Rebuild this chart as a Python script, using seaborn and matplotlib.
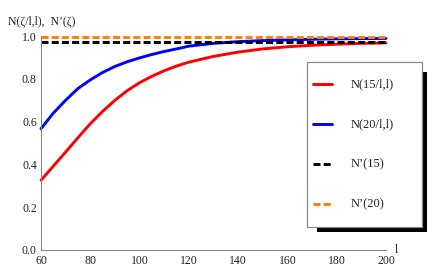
import matplotlib
matplotlib.use("Agg")
import matplotlib.pyplot as plt
from matplotlib.patches import Rectangle
from matplotlib.ticker import MultipleLocator, FormatStrFormatter
import seaborn as sns
import pandas as pd

# --- data ---
l_vals = [60, 65, 70, 75, 80, 85, 90, 95, 100, 105, 110, 115, 120, 130, 140, 150, 160, 170, 180, 190, 200]
n15 = [0.326, 0.392, 0.458, 0.525, 0.59, 0.648, 0.70, 0.745, 0.782, 0.812, 0.838, 0.86, 0.878,
       0.905, 0.925, 0.94, 0.95, 0.957, 0.962, 0.966, 0.968]
n20 = [0.567, 0.64, 0.70, 0.755, 0.795, 0.83, 0.858, 0.88, 0.898, 0.914, 0.928, 0.94, 0.953,
       0.966, 0.974, 0.979, 0.982, 0.985, 0.987, 0.988, 0.989]
l_range = [60, 200]
nprime15 = 0.974
nprime20 = 0.997

labels = ["N(15/l,l)", "N(20/l,l)", "N\u2019(15)", "N\u2019(20)"]
colors = ["#ff0000", "#0000ff", "#000000", "#ff8000"]
DASH = (0, (2.4, 1.1))
LW = 2.1

sns.set_style("white")
plt.rcParams["font.family"] = ["Liberation Serif", "DejaVu Serif"]

fig = plt.figure(figsize=(4.36, 2.73), dpi=100)
ax = fig.add_axes([41 / 436, 23 / 273, 345 / 436, 215 / 273])

curves = pd.DataFrame({"l": l_vals, "n15": n15, "n20": n20})
sns.lineplot(data=curves, x="l", y="n15", ax=ax, color=colors[0], lw=LW, clip_on=False)
sns.lineplot(data=curves, x="l", y="n20", ax=ax, color=colors[1], lw=LW, clip_on=False)
sns.lineplot(x=l_range, y=[nprime15] * 2, ax=ax, color=colors[2], lw=LW,
             linestyle=DASH, clip_on=False)
sns.lineplot(x=l_range, y=[nprime20] * 2, ax=ax, color=colors[3], lw=LW,
             linestyle=DASH, clip_on=False)

ax.set_xlim(60, 200)
ax.set_ylim(0, 1.005)
ax.set_xlabel("")
ax.set_ylabel("")
ax.xaxis.set_major_locator(MultipleLocator(20))
ax.xaxis.set_minor_locator(MultipleLocator(5))
ax.yaxis.set_major_locator(MultipleLocator(0.2))
ax.yaxis.set_minor_locator(MultipleLocator(0.05))
ax.yaxis.set_major_formatter(FormatStrFormatter("%.1f"))
ax.tick_params(which="both", direction="in", color="#888888", labelsize=8.5,
               labelcolor="#222222", width=0.6)
ax.tick_params(axis="x", pad=3.5)
ax.tick_params(axis="y", pad=3)
ax.tick_params(which="major", length=4)
ax.tick_params(which="minor", length=2.2)
for s in ["top", "right"]:
    ax.spines[s].set_visible(False)
for s in ["left", "bottom"]:
    ax.spines[s].set_color("#888888")
    ax.spines[s].set_linewidth(0.8)
ax.spines["left"].set_bounds(0, 1.0)
ax.patch.set_alpha(0)

ax.text(1 + 9 / 345, 0.0, "l", transform=ax.transAxes, fontsize=8.5, va="center",
        ha="left", color="#222222")
fig.text(8 / 436, 1 - 24 / 273, "N(\u03b6/l,l),  N\u2019(\u03b6)", fontsize=8.5,
         va="baseline", ha="left", color="#222222")

# legend box with drop shadow (figure pixels)
W, H = 436, 273
fig.add_artist(Rectangle((317 / W, 1 - 232 / H), 110 / W, 160 / H, transform=fig.transFigure,
                         facecolor="black", edgecolor="none", zorder=5))
fig.add_artist(Rectangle((307 / W, 1 - 227 / H), 115 / W, 165 / H, transform=fig.transFigure,
                         facecolor="white", edgecolor="#888888", lw=0.9, zorder=6))
for i, (lab, c) in enumerate(zip(labels, colors)):
    yy = 1 - (84 + 40 * i) / H
    ls = "-" if i < 2 else DASH
    fig.add_artist(plt.Line2D([313 / W, 332 / W], [yy, yy], transform=fig.transFigure,
                              color=c, lw=LW, linestyle=ls, zorder=7))
    fig.text(351 / W, yy, lab, fontsize=9, va="center", ha="left", zorder=7, color="#222222")

fig.savefig("out.png", dpi=100, facecolor="white")
